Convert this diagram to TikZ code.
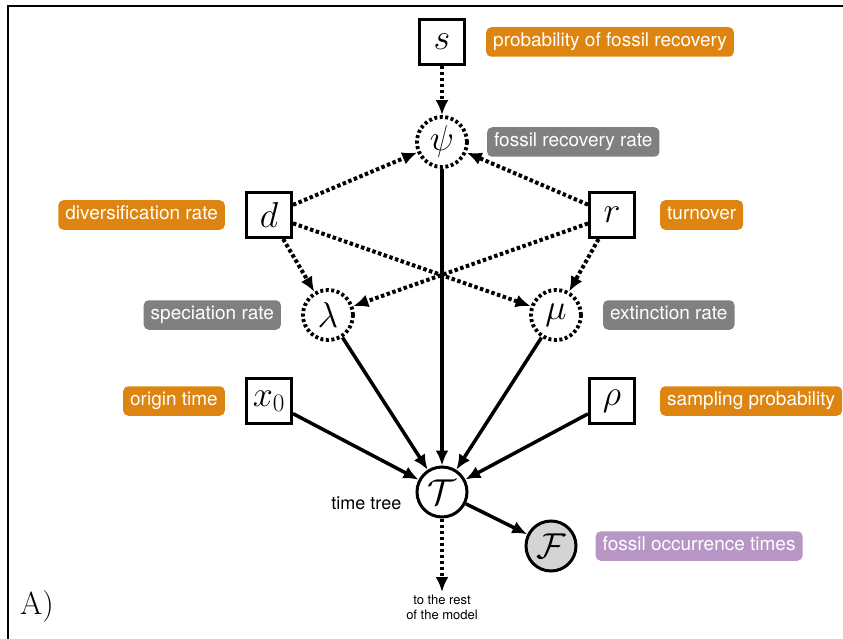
\RequirePackage{fix-cm}
\documentclass[tikz,border=0pt]{standalone}
\usepackage{fontspec}
\setsansfont{TeX Gyre Heros}
\usepackage{amsmath}
\usepackage{tikz}
\usetikzlibrary{positioning, arrows.meta}
\definecolor{constorange}{HTML}{DD8510}
\definecolor{detgray}{HTML}{808080}
\definecolor{obspurple}{HTML}{B796C5}
\definecolor{obsfill}{HTML}{D4D4D4}

\begin{document}
\begin{tikzpicture}[
            x=1pt, y=-1pt,
            node distance=20pt,
            constnode/.style={rectangle, draw=black, fill=white, line width=3pt, minimum size=45pt, inner sep=0pt, font=\fontsize{36}{40}\selectfont},
            detnode/.style={circle, draw=black, fill=white, line width=3.8pt, dash pattern=on 3pt off 2.5pt, minimum size=50pt, inner sep=0pt, font=\fontsize{36}{40}\selectfont},
            stochnode/.style={circle, draw=black, fill=white, line width=3pt, minimum size=50pt, inner sep=0pt, font=\fontsize{36}{40}\selectfont},
            obsnode/.style={stochnode, fill=obsfill},
            labeltag/.style={rectangle, rounded corners=5pt, text=white, font=\sffamily\fontsize{19}{22}\selectfont, inner xsep=7pt, inner ysep=6pt, text height=13.5pt, text depth=4pt},
            orangetag/.style={labeltag, fill=constorange},
            graytag/.style={labeltag, fill=detgray},
            purpletag/.style={labeltag, fill=obspurple},
            dotarrow/.style={line width=4pt, dash pattern=on 3.5pt off 2.5pt, -{Latex[length=15pt, width=13pt]}},
            solidarrow/.style={line width=3.5pt, -{Latex[length=15pt, width=13pt]}}
        ]
            \useasboundingbox (0,0) rectangle (843,639);
            % Frame
            \draw[line width=2pt] (8,639) -- (8,6) -- (843,6);
            
            % Nodes
            \node[constnode] (s) at (442,42) {$s$};
            \node[detnode] (psi) at (442,142) {$\psi$};
            \node[constnode] (d) at (269,215) {$d$};
            \node[constnode] (r) at (612,215) {$r$};
            \node[detnode] (lambda) at (328,315) {$\lambda$};
            \node[detnode] (mu) at (556,315) {$\mu$};
            \node[constnode] (x0) at (269,401) {$x_0$};
            \node[constnode] (rho) at (612,401) {$\rho$};
            \node[stochnode] (tree) at (442,492) {$\mathcal{T}$};
            \node[obsnode] (fossils) at (551,546) {$\mathcal{F}$};
            \coordinate (rest) at (442,592);
            
            % Labels
            \node[orangetag, right=of s] (slabel) {probability of fossil recovery};
            \node[graytag, right=18pt of psi] (psilabel) {fossil recovery rate};
            \node[orangetag, left=of d] (dlabel) {diversification rate};
            \node[orangetag, right=24pt of r] (rlabel) {turnover};
            \node[graytag, left=of lambda] (lambdalabel) {speciation rate};
            \node[graytag, right=of mu] (mulabel) {extinction rate};
            \node[orangetag, left=of x0] (x0label) {origin time};
            \node[orangetag, right=24pt of rho] (rholabel) {sampling probability};
            \node[left=14pt of tree, yshift=-11pt, font=\sffamily\fontsize{18}{22}\selectfont, inner sep=0pt] (treelabel) {time tree};
            \node[purpletag, right=18pt of fossils] (fossillabel) {fossil occurrence times};
            \node[below=3pt of rest, align=center, inner sep=0pt, font=\sffamily\fontsize{13}{15}\selectfont] (restlabel) {to the rest\\of the model};
            \node[font=\fontsize{32}{36}\selectfont] (panel) at (37,607) {A)};
            
            % Arrows
            \draw[dotarrow] (s) -- (psi);
            \draw[dotarrow] (d) -- (psi);
            \draw[dotarrow] (r) -- (psi);
            \draw[dotarrow] (d) -- (lambda);
            \draw[dotarrow] (d) -- (mu);
            \draw[dotarrow] (r) -- (lambda);
            \draw[dotarrow] (r) -- (mu);
            \draw[solidarrow] (psi) -- (tree);
            \draw[solidarrow] (lambda) -- (tree);
            \draw[solidarrow] (mu) -- (tree);
            \draw[solidarrow] (x0) -- (tree);
            \draw[solidarrow] (rho) -- (tree);
            \draw[solidarrow] (tree) -- (fossils);
            \draw[dotarrow] (tree) -- (rest);
        \end{tikzpicture}
\end{document}
